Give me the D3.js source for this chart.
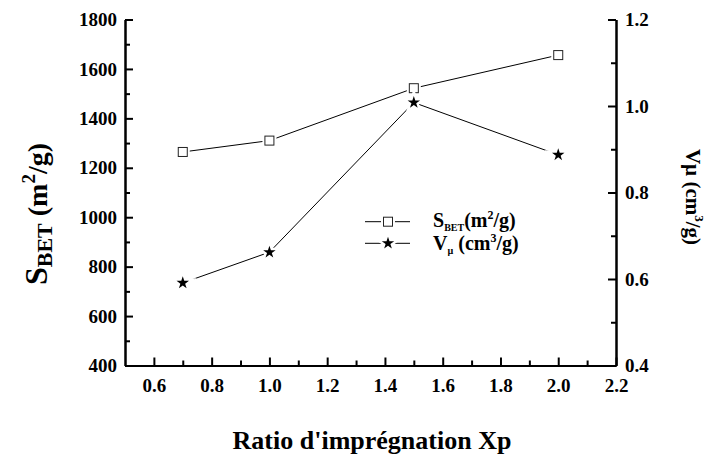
<!DOCTYPE html>
<html>
<head>
<meta charset="utf-8">
<script src="https://cdn.jsdelivr.net/npm/d3@7"></script>
<style>
  html, body { margin: 0; padding: 0; background: #fff; }
  svg, svg text { font-family: 'Liberation Serif', 'Times New Roman', Tinos, 'DejaVu Serif', serif; font-weight: bold; }
</style>
</head>
<body>
<svg id="chart" width="712" height="461"></svg>
<script>
// Impregnation ratios and measured properties
const ratios = [0.7, 1.0, 1.5, 2.0];
const sbet = [1264, 1310, 1522, 1656];      // m²/g
const vmicro = [0.591, 0.662, 1.008, 0.887]; // cm³/g

const xMajor = [0.6, 0.8, 1.0, 1.2, 1.4, 1.6, 1.8, 2.0, 2.2];
const xMinor = [0.7, 0.9, 1.1, 1.3, 1.5, 1.7, 1.9, 2.1];
const yLeftMajor = [400, 600, 800, 1000, 1200, 1400, 1600, 1800];
const yLeftMinor = [500, 700, 900, 1100, 1300, 1500, 1700];
const yRightMajor = [0.4, 0.6, 0.8, 1.0, 1.2];
const yRightMinor = [0.5, 0.7, 0.9, 1.1];

const FONT = "'Liberation Serif', 'Times New Roman', Tinos, 'DejaVu Serif', serif";

const W = 712, H = 461;
const margin = { top: 19.5, right: 96, bottom: 95.5, left: 125 };
const iw = W - margin.left - margin.right;
const ih = H - margin.top - margin.bottom;

const svg = d3.select("#chart");
const g = svg.append("g").attr("transform", `translate(${margin.left},${margin.top})`);

const x = d3.scaleLinear().domain([0.5, 2.2]).range([0, iw]);
const yL = d3.scaleLinear().domain([400, 1800]).range([ih, 0]);
const yR = d3.scaleLinear().domain([0.4, 1.2]).range([ih, 0]);

function styleAxis(sel, fontSize) {
  sel.attr("font-family", FONT).attr("font-size", fontSize).attr("font-weight", "bold");
  sel.select(".domain").attr("stroke", "#000").attr("stroke-width", 2);
  sel.selectAll(".tick line").attr("stroke", "#000").attr("stroke-width", 2);
  sel.selectAll(".tick text").attr("fill", "#000");
}

// Bottom axis (ticks point inward)
const gxMinor = g.append("g").attr("transform", `translate(0,${ih})`)
  .call(d3.axisBottom(x).tickValues(xMinor).tickSize(-5).tickSizeOuter(0).tickFormat(""));
styleAxis(gxMinor, 19);
const gx = g.append("g").attr("transform", `translate(0,${ih})`)
  .call(d3.axisBottom(x).tickValues(xMajor).tickSize(-8).tickSizeOuter(0).tickPadding(13).tickFormat(d3.format(".1f")));
styleAxis(gx, 19);

// Left axis
const gyMinor = g.append("g")
  .call(d3.axisLeft(yL).tickValues(yLeftMinor).tickSize(-5).tickSizeOuter(0).tickFormat(""));
styleAxis(gyMinor, 19);
const gy = g.append("g")
  .call(d3.axisLeft(yL).tickValues(yLeftMajor).tickSize(-8).tickSizeOuter(0).tickPadding(8).tickFormat(d3.format("d")));
styleAxis(gy, 19);

// Right axis
const gyrMinor = g.append("g").attr("transform", `translate(${iw},0)`)
  .call(d3.axisRight(yR).tickValues(yRightMinor).tickSize(-5).tickSizeOuter(0).tickFormat(""));
styleAxis(gyrMinor, 19);
const gyr = g.append("g").attr("transform", `translate(${iw},0)`)
  .call(d3.axisRight(yR).tickValues(yRightMajor).tickSize(-8).tickSizeOuter(0).tickPadding(9).tickFormat(d3.format(".1f")));
styleAxis(gyr, 19);

// Series lines
const lineS = d3.line().x((d, i) => x(ratios[i])).y(d => yL(d));
const lineV = d3.line().x((d, i) => x(ratios[i])).y(d => yR(d));

g.append("path").datum(sbet).attr("d", lineS)
  .attr("fill", "none").attr("stroke", "#000").attr("stroke-width", 1);
g.append("path").datum(vmicro).attr("d", lineV)
  .attr("fill", "none").attr("stroke", "#000").attr("stroke-width", 1);

const star = d3.symbol().type(d3.symbolStar).size(48);
const SQ = 9;

function squareMarker(sel, cx, cy) {
  sel.append("rect").attr("x", cx - 7).attr("y", cy - 7).attr("width", 14).attr("height", 14).attr("fill", "#fff");
  sel.append("rect").attr("x", cx - SQ / 2).attr("y", cy - SQ / 2).attr("width", SQ).attr("height", SQ)
    .attr("fill", "#fff").attr("stroke", "#222").attr("stroke-width", 1);
}
function starMarker(sel, cx, cy) {
  sel.append("path").attr("d", star()).attr("transform", `translate(${cx},${cy})`)
    .attr("fill", "#fff").attr("stroke", "#fff").attr("stroke-width", 5);
  sel.append("path").attr("d", star()).attr("transform", `translate(${cx},${cy})`)
    .attr("fill", "#000");
}

const marks = g.append("g");
sbet.forEach((v, i) => squareMarker(marks, x(ratios[i]), yL(v)));
vmicro.forEach((v, i) => starMarker(marks, x(ratios[i]), yR(v)));

// Legend
const leg = svg.append("g").attr("font-family", FONT).attr("font-weight", "bold");
function legendRow(yy, kind) {
  leg.append("line").attr("x1", 365).attr("x2", 410).attr("y1", yy).attr("y2", yy)
    .attr("stroke", "#000").attr("stroke-width", 1);
  if (kind === "sq") squareMarker(leg, 388, yy); else starMarker(leg, 388, yy);
}
legendRow(221.7, "sq");
legendRow(243.3, "star");

const t1 = leg.append("text").attr("x", 433).attr("y", 227).attr("font-size", 20).attr("fill", "#000");
t1.append("tspan").text("S");
t1.append("tspan").attr("dy", 4).attr("font-size", 10).text("BET");
t1.append("tspan").attr("dy", -4).text("(m");
t1.append("tspan").attr("dy", -8).attr("font-size", 12).text("2");
t1.append("tspan").attr("dy", 8).text("/g)");

const t2 = leg.append("text").attr("x", 433).attr("y", 250).attr("font-size", 20).attr("fill", "#000");
t2.append("tspan").text("V");
t2.append("tspan").attr("dy", 4).attr("font-size", 10).text("µ");
t2.append("tspan").attr("dy", -4).text(" (cm");
t2.append("tspan").attr("dy", -8).attr("font-size", 12).text("3");
t2.append("tspan").attr("dy", 8).text("/g)");

// Axis titles
const titles = svg.append("g").attr("font-family", FONT).attr("font-weight", "bold").attr("fill", "#000");

titles.append("text").attr("x", 372).attr("y", 449).attr("text-anchor", "middle")
  .attr("font-size", 26).text("Ratio d'imprégnation Xp");

const lt = titles.append("text").attr("transform", "translate(47,214) rotate(-90)")
  .attr("text-anchor", "middle").attr("font-size", 28);
lt.append("tspan").attr("font-size", 32).text("S");
lt.append("tspan").attr("dy", 5).attr("font-size", 22).text("BET");
lt.append("tspan").attr("dy", -5).text(" (m");
lt.append("tspan").attr("dy", -12).attr("font-size", 19).text("2");
lt.append("tspan").attr("dy", 12).text("/g)");

const rt = titles.append("text").attr("transform", "translate(686,197) rotate(90)")
  .attr("text-anchor", "middle").attr("font-size", 21);
rt.append("tspan").text("Vµ (cm");
rt.append("tspan").attr("dy", -9).attr("font-size", 13).text("3");
rt.append("tspan").attr("dy", 9).text("/g)");
</script>
</body>
</html>
